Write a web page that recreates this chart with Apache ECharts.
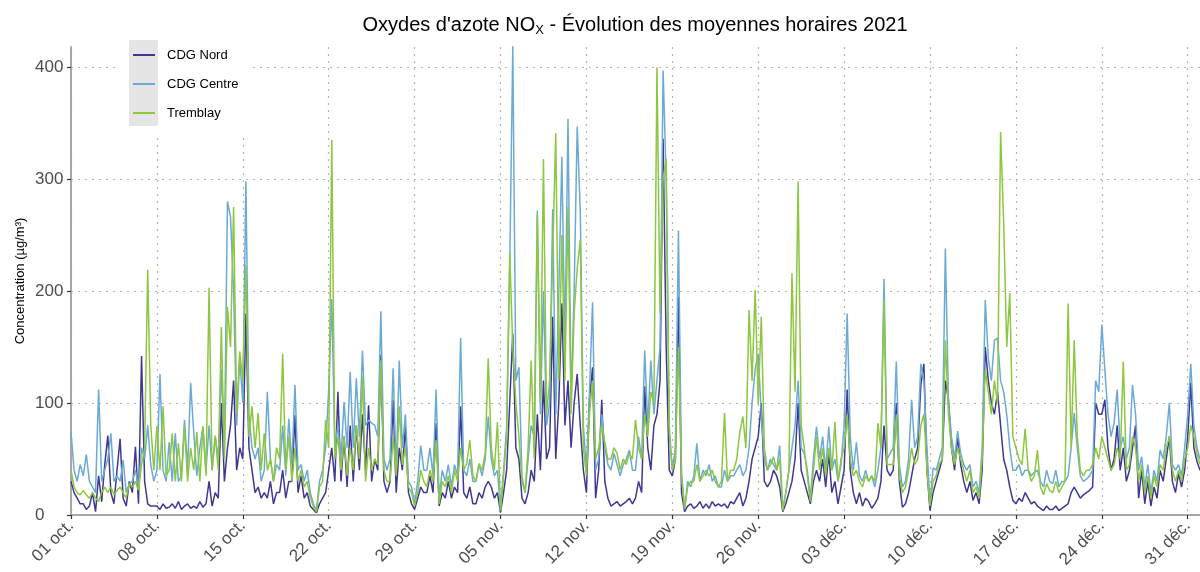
<!DOCTYPE html>
<html><head><meta charset="utf-8">
<script src="https://cdn.jsdelivr.net/npm/echarts@6/dist/echarts.min.js"></script>
<style>html,body{margin:0;padding:0;background:#fff}#c{width:1200px;height:572px}</style>
</head><body><div id="c"></div>
<script>
// x tick labels (one per week from 01 oct.)
const tickLabels = ['01 oct.','08 oct.','15 oct.','22 oct.','29 oct.','05 nov.','12 nov.','19 nov.','26 nov.','03 déc.','10 déc.','17 déc.','24 déc.','31 déc.'];
const yTicks = [0,100,200,300,400];
const seriesNames = ['CDG Nord','CDG Centre','Tremblay'];
const stepDays = 0.25; // values read every 6 hours from 01 oct. 00h

const cdgNord = [
30,20,15,10, 10,5,8,20, 3,35,12,45, 71,20,10,40, 68,15,8,30, 20,61,10,142, 30,10,8,8, 8,5,10,6, 7,10,6,12, 5,8,10,6,
8,6,12,7, 10,30,8,20, 15,100,30,60, 80,120,40,60, 50,180,60,40, 20,25,15,20, 15,30,10,20, 20,40,15,30, 30,89,20,35, 15,20,8,5,
2,10,15,20, 40,60,30,110, 30,70,25,80, 30,80,40,90, 40,98,30,50, 40,143,30,20, 30,103,20,60, 40,79,20,10, 5,15,25,20, 20,35,20,82,
8,20,15,30, 15,25,20,97, 20,15,25,10, 10,20,15,25, 30,25,15,20, 2,20,40,100, 162,60,50,15, 10,20,40,30, 90,40,120,50, 60,177,50,100,
189,80,120,60, 100,126,80,40, 20,103,132,15, 40,103,30,15, 8,10,12,8, 10,12,15,10, 15,30,20,115, 60,40,80,90, 120,336,150,40, 35,50,195,20,
3,8,10,6, 8,12,6,10, 6,12,8,10, 8,10,6,12, 10,15,20,8, 15,30,50,60, 70,100,30,25, 30,40,35,25, 3,10,20,30, 50,100,40,30,
20,10,30,40, 30,50,25,55, 20,30,10,25, 40,112,40,20, 10,20,8,15, 12,6,10,15, 30,80,40,35, 40,100,30,7, 10,20,35,50, 60,116,135,40,
4,20,30,40, 50,120,103,60, 40,70,45,30, 20,30,13,20, 10,40,150,120, 100,90,110,80, 50,40,25,13, 10,15,12,20, 15,10,12,8, 6,4,8,5,
5,8,4,6, 8,10,20,25, 20,15,18,20, 22,25,100,90, 90,103,60,40, 50,80,40,60, 30,40,60,80, 15,40,10,30, 8,25,15,40, 30,50,70,30,
20,37,25,40, 70,118,60,48, 40
];
const cdgCentre = [
74,40,30,45, 35,54,30,25, 20,112,30,40, 50,73,30,35, 30,49,20,28, 30,40,25,60, 50,80,45,30, 40,126,40,30, 65,30,73,30, 35,85,40,118,
74,35,60,79, 40,80,40,70, 50,130,60,280, 266,200,80,140, 100,298,90,60, 50,60,30,40, 110,50,30,45, 40,80,35,86, 45,116,40,45, 30,40,20,10,
4,30,40,60, 112,193,60,80, 50,101,60,128, 60,122,70,147, 80,85,82,80, 70,182,50,40, 50,131,40,138, 60,90,30,25, 10,30,62,40, 40,60,35,112,
15,40,30,45, 25,45,35,158, 40,35,50,30, 30,45,35,50, 88,50,35,40, 5,40,80,220, 419,120,132,35, 20,50,80,70, 272,90,200,80, 100,273,90,200,
320,150,354,100, 200,347,271,80, 40,110,190,40, 50,90,60,45, 40,55,45,35, 45,50,58,40, 40,70,50,147, 80,138,90,120, 150,397,300,73, 40,60,254,37,
5,30,25,35, 64,30,40,35, 45,30,35,25, 25,40,30,35, 35,40,45,35, 40,60,100,130, 144,90,50,40, 50,45,40,62, 5,20,40,60, 80,120,60,55,
40,15,50,79, 50,70,40,79, 40,50,30,45, 80,180,70,40, 65,35,30,40, 30,35,25,40, 60,211,50,55, 60,137,45,25, 30,50,103,60, 70,135,120,60,
10,42,40,50, 60,238,103,70, 50,75,55,45, 40,45,25,30, 20,60,192,140, 120,156,158,120, 110,90,60,40, 40,45,35,40, 40,35,38,40, 30,25,40,30,
28,40,25,30, 30,35,60,91, 60,35,30,32, 35,40,120,110, 170,129,90,70, 82,112,60,70, 50,60,116,90, 40,52,25,45, 20,40,30,58, 50,70,100,45,
40,45,35,60, 90,135,80,60, 50
];
const tremblay = [
40,25,20,18, 22,18,15,20, 15,12,20,25, 20,25,18,22, 25,20,15,28, 25,30,22,45, 60,219,80,40, 79,40,97,35, 40,73,30,64, 30,80,30,60,
40,74,30,79, 35,203,40,71, 40,168,50,186, 150,275,90,146, 120,223,70,97, 60,91,40,73, 40,50,30,60, 50,144,40,70, 30,60,30,40, 25,30,15,8,
3,25,30,85, 60,335,50,70, 40,70,35,60, 40,80,50,124, 30,60,40,50, 45,138,40,30, 30,70,35,97, 45,60,25,20, 8,20,40,30, 25,40,30,67,
10,30,25,35, 20,40,30,60, 40,46,67,35, 30,46,40,55, 140,60,40,83, 4,35,70,234, 150,100,70,30, 20,60,138,50, 268,100,318,90, 120,230,341,120,
250,120,275,90, 180,220,246,60, 35,90,120,50, 60,80,65,50, 50,60,55,40, 50,45,55,50, 85,60,50,90, 70,110,100,400, 180,300,318,80, 40,50,150,35,
6,25,30,30, 45,30,35,40, 35,40,30,25, 30,91,30,40, 40,50,74,88, 60,183,120,201, 100,177,60,40, 45,52,40,50, 4,20,40,216, 110,298,80,60,
35,12,40,70, 40,60,35,60, 40,83,30,50, 60,90,50,35, 40,30,25,35, 30,35,30,82, 60,192,45,45, 45,90,35,20, 25,40,60,45, 50,80,90,40,
8,30,35,45, 50,156,90,60, 45,60,50,40, 30,40,20,25, 15,50,130,110, 90,120,100,342, 262,150,198,70, 60,50,45,77, 40,30,35,58, 25,18,28,22,
20,30,20,25, 30,189,60,156, 70,40,35,40, 40,45,60,50, 70,60,50,40, 45,60,50,137, 40,45,70,60, 30,45,20,35, 15,35,25,45, 40,60,70,40,
30,40,30,50, 60,80,70,55, 45
];

const colors = ['#3F3893', '#6BAAD5', '#8DC63F'];
const FONT = 'Liberation Sans, Arial, sans-serif';
const toPairs = arr => arr.map((v, i) => [i * stepDays, v]);
const allSeries = [cdgNord, cdgCentre, tremblay];

const chart = echarts.init(document.getElementById('c'));
chart.setOption({
  animation: false,
  backgroundColor: '#ffffff',
  textStyle: { fontFamily: FONT },
  title: {
    text: "{a|Oxydes d'azote NO}{b|X}{a| - Évolution des moyennes horaires 2021}",
    left: 630, top: 8, textAlign: 'center',
    textStyle: {
      fontWeight: 'normal',
      rich: {
        a: { fontSize: 20, color: '#000', fontFamily: FONT, fontWeight: 'normal', lineHeight: 24 },
        b: { fontSize: 13, color: '#000', fontFamily: FONT, fontWeight: 'normal', padding: [10, 0, 0, 0] }
      }
    }
  },
  graphic: [
    { type: 'rect', left: 118, top: 30, shape: { width: 134, height: 108 }, style: { fill: '#ffffff' }, z: 3 },
    { type: 'rect', left: 129, top: 40, shape: { width: 29, height: 86 }, style: { fill: '#e5e5e5' }, z: 3 }
  ],
  legend: {
    data: seriesNames.map(n => ({ name: n, icon: 'rect' })), orient: 'vertical', left: 133, top: 48, padding: 0,
    itemWidth: 22, itemHeight: 2, itemGap: 15, z: 5,
    textStyle: { fontSize: 13, color: '#000', fontFamily: FONT, padding: [0, 0, 0, 7], lineHeight: 14 }
  },
  grid: { left: 71, right: 0, top: 47, bottom: 57, containLabel: false },
  xAxis: {
    type: 'value', min: 0, max: 92, interval: 7,
    axisLine: { show: true, lineStyle: { color: '#a8a8a8', width: 2 } },
    axisTick: { show: true, length: 4, lineStyle: { color: '#333', width: 1.2 } },
    axisLabel: {
      rotate: 45, fontSize: 17, color: '#4d4d4d', margin: 8, showMaxLabel: false,
      formatter: v => (v % 7 === 0 && tickLabels[v / 7]) ? tickLabels[v / 7] : ''
    },
    splitLine: { show: true, showMaxLine: false, lineStyle: { type: [2, 5], color: '#b5b5b5', width: 1.2 } }
  },
  yAxis: {
    type: 'value', min: 0, max: 418, interval: 100,
    name: 'Concentration (µg/m³)', nameLocation: 'middle', nameGap: 44, nameRotate: 90, nameMoveOverlap: false,
    nameTextStyle: { fontSize: 13, color: '#000', fontFamily: FONT },
    axisLine: { show: true, lineStyle: { color: '#a8a8a8', width: 2 } },
    axisTick: { show: true, length: 4, lineStyle: { color: '#333', width: 1.2 }, customValues: yTicks },
    axisLabel: { fontSize: 17, color: '#4d4d4d', margin: 36, align: 'left', customValues: yTicks },
    splitLine: { show: true, lineStyle: { type: [2, 5], color: '#b5b5b5', width: 1.2 } }
  },
  series: allSeries.map((arr, k) => ({
    name: seriesNames[k], type: 'line', data: toPairs(arr),
    symbol: 'none', showSymbol: false, z: 2 + k * 0.1,
    lineStyle: { color: colors[k], width: 1.5 }, itemStyle: { color: colors[k] }
  }))
});
</script></body></html>
